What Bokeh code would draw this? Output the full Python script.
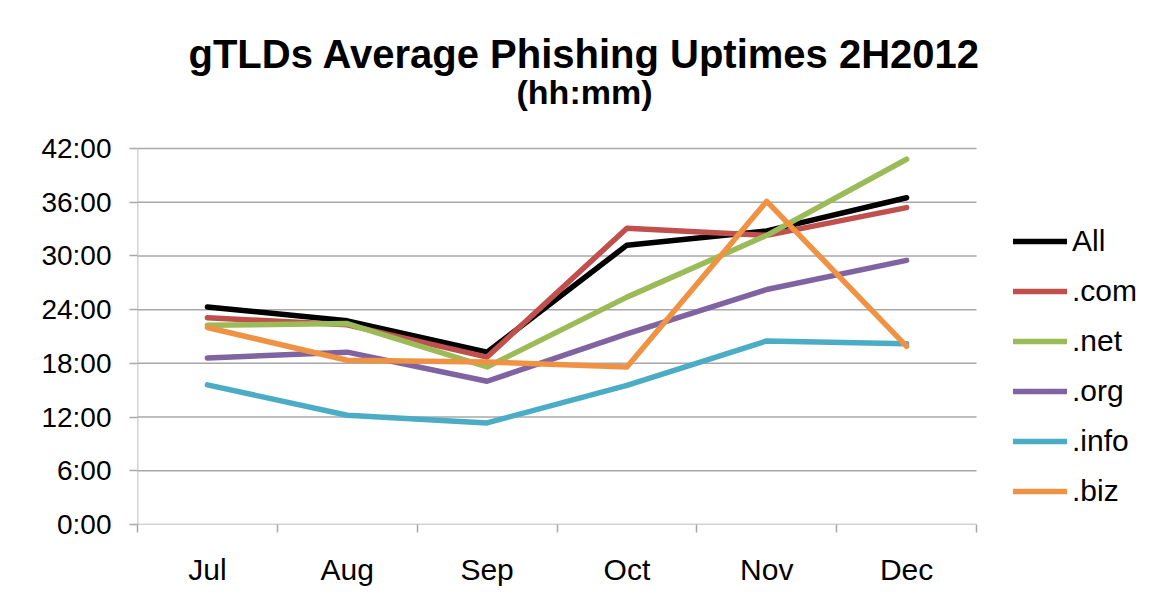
from bokeh.plotting import figure
from bokeh.models import (FixedTicker, Legend, LegendItem, ColumnDataSource)
from bokeh.core.properties import value
from bokeh.embed import file_html
from bokeh.resources import INLINE

# ---------------- data (hours) ----------------
months = ["Jul", "Aug", "Sep", "Oct", "Nov", "Dec"]
series_names = ["All", ".com", ".net", ".org", ".info", ".biz"]
all_tld = [24.3, 22.75, 19.25, 31.2, 32.8, 36.5]
com = [23.1, 22.3, 18.7, 33.1, 32.3, 35.4]
net = [22.25, 22.45, 17.6, 25.4, 32.3, 40.8]
org = [18.6, 19.25, 16.0, 21.3, 26.25, 29.5]
info = [15.6, 12.2, 11.35, 15.55, 20.5, 20.2]
biz = [22.0, 18.35, 18.15, 17.6, 36.1, 19.9]
y_ticks = [0, 6, 12, 18, 24, 30, 36, 42]
y_tick_labels = ["0:00", "6:00", "12:00", "18:00", "24:00", "30:00", "36:00", "42:00"]
title_text = "gTLDs Average Phishing Uptimes 2H2012"
subtitle_text = "(hh:mm)"

colors = ["#000000", "#C0504D", "#9BBB59", "#8064A2", "#4BACC6", "#F09244"]
values = [all_tld, com, net, org, info, biz]

FONT = "Liberation Sans"
GRID = "#a8a8a8"

W, H = 1155, 614
LEFT, RIGHT_PLOT = 137, 976     # pixel extent of the category area
TOP_PLOT, BOTTOM = 148, 524     # pixel extent of 42:00 .. 0:00
n = len(months)
y_max = y_ticks[-1]
x_pos = [i + 0.5 for i in range(n)]

# the frame covers the whole area right of the y axis and above the x axis,
# so titles and legend can be drawn inside it without clipping
x_end = n * (W - LEFT) / (RIGHT_PLOT - LEFT)
y_end = y_max * BOTTOM / (BOTTOM - TOP_PLOT)


def px_to_x(px):
    return (px - LEFT) * n / (RIGHT_PLOT - LEFT)


def py_to_y(py):
    return (BOTTOM - py) * y_max / (BOTTOM - TOP_PLOT)


p = figure(width=W, height=H, output_backend="svg", toolbar_location=None,
           x_range=(0, x_end), y_range=(0, y_end),
           min_border_left=LEFT, min_border_right=0, min_border_bottom=H - BOTTOM,
           min_border_top=0)
p.background_fill_color = "white"
p.border_fill_color = "white"
p.outline_line_color = None

# titles
p.text(x=[px_to_x(584)], y=[py_to_y(53)], text=[title_text],
       text_font=value(FONT), text_font_size="40px", text_font_style="bold",
       text_color="#000000", text_align="center", text_baseline="alphabetic")
p.text(x=[px_to_x(584)], y=[py_to_y(91)], text=[subtitle_text],
       text_font=value(FONT), text_font_size="34px", text_font_style="bold",
       text_color="#000000", text_align="center", text_baseline="alphabetic")

# horizontal gridlines limited to the category area, and the y axis line
p.segment(x0=[0] * len(y_ticks), x1=[n] * len(y_ticks), y0=y_ticks, y1=y_ticks,
          line_color=GRID, line_width=1.5)
p.segment(x0=[0], x1=[0], y0=[0], y1=[y_max], line_color=GRID, line_width=1.5)

# x axis: labels at category centres, tick marks at category boundaries
p.xaxis.ticker = FixedTicker(ticks=x_pos, minor_ticks=list(range(n + 1)))
p.xaxis.major_label_overrides = {x: m for x, m in zip(x_pos, months)}
p.xaxis.major_tick_out = 0
p.xaxis.major_tick_in = 0
p.xaxis.minor_tick_out = 8
p.xaxis.minor_tick_in = 0
p.xaxis.minor_tick_line_color = GRID
p.xaxis.minor_tick_line_width = 1.5
p.xaxis.axis_line_color = None
p.xaxis.major_label_text_font = FONT
p.xaxis.major_label_text_font_size = "30px"
p.xaxis.major_label_text_color = "#000000"
p.xaxis.major_label_standoff = 20
p.xgrid.visible = False

# y axis
p.yaxis.ticker = FixedTicker(ticks=y_ticks, minor_ticks=[])
p.yaxis.major_label_overrides = {t: l for t, l in zip(y_ticks, y_tick_labels)}
p.yaxis.major_tick_out = 8
p.yaxis.major_tick_in = 0
p.yaxis.minor_tick_line_color = None
p.yaxis.major_tick_line_color = GRID
p.yaxis.major_tick_line_width = 1.5
p.yaxis.axis_line_color = None
p.yaxis.major_label_text_font = FONT
p.yaxis.major_label_text_font_size = "28px"
p.yaxis.major_label_text_color = "#000000"
p.yaxis.major_label_standoff = 18
p.ygrid.visible = False

items = []
for name, vals, c in zip(series_names, values, colors):
    src = ColumnDataSource(dict(x=x_pos, y=vals))
    r = p.line("x", "y", source=src, line_color=c, line_width=5.5,
               line_join="round", line_cap="round")
    items.append(LegendItem(label=name, renderers=[r]))

legend = Legend(items=items, location=(876, 16), orientation="vertical",
                label_text_font=FONT, label_text_font_size="30px",
                label_text_color="#000000",
                glyph_width=54, glyph_height=30, label_height=30,
                label_standoff=5, spacing=16, padding=0, margin=0,
                border_line_color=None, background_fill_alpha=0)
p.add_layout(legend, "center")

open("out.html", "w").write(file_html(p, INLINE))
